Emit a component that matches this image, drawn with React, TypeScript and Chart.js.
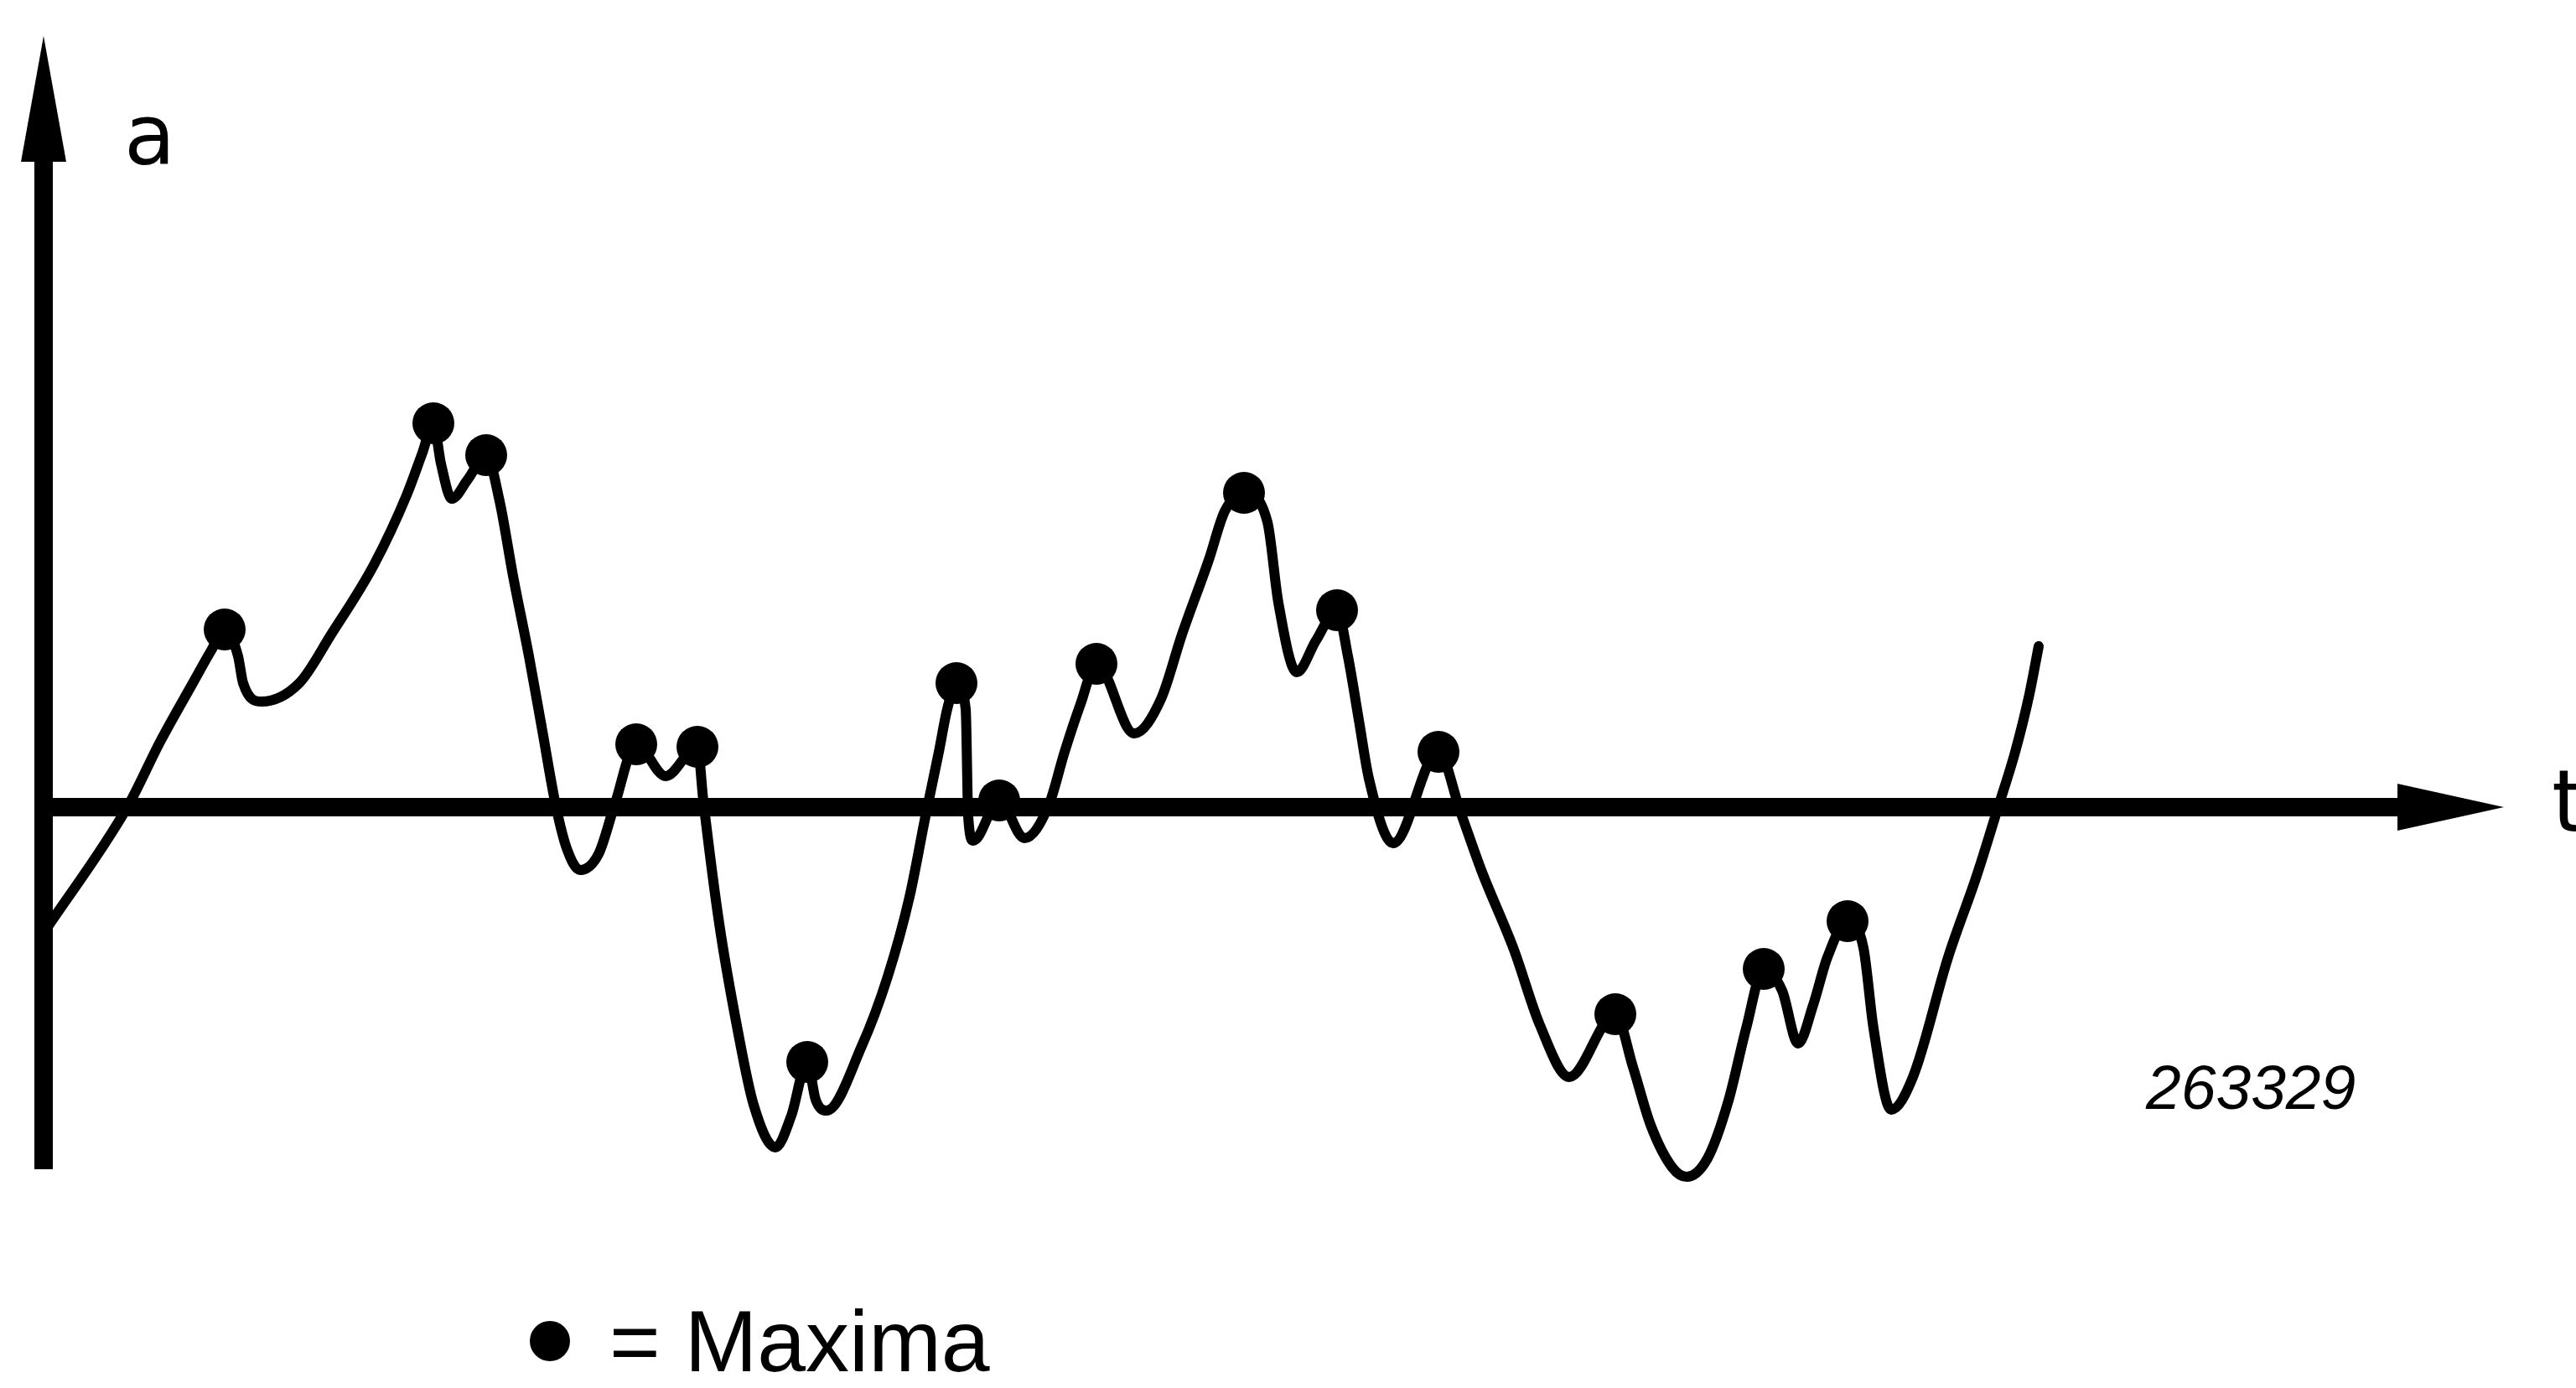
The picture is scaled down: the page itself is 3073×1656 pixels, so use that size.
import React, { useEffect, useRef } from "react";
import { Chart, registerables } from "chart.js";

Chart.register(...registerables);

// Signal a(t): sampled along the trace, t in time units, a in amplitude units
const timeValues = [
  0.0, 1.01, 1.39, 1.78, 2.0, 2.16, 2.32, 2.38, 2.6, 3.05, 3.43, 3.94, 4.33, 4.52, 4.65,
  4.74, 4.87, 5.06, 5.28, 5.44, 5.6, 5.79, 5.95, 6.11, 6.24, 6.4, 6.62, 6.81, 7.07, 7.42,
  7.8, 7.87, 8.06, 8.28, 8.47, 8.73, 8.92, 9.11, 9.21, 9.34, 9.76, 10.07, 10.33, 10.52,
  10.68, 10.78, 10.89, 11.0, 11.03, 11.09, 11.4, 11.7, 11.99, 12.18, 12.37, 12.56, 13.01,
  13.33, 13.58, 13.9, 14.09, 14.32, 14.6, 14.73, 14.95, 15.18, 15.43, 15.56, 15.69, 15.81,
  16.1, 16.64, 16.9, 17.15, 17.54, 17.85, 18.2, 18.75, 18.96, 19.17, 19.43, 19.6, 19.85,
  20.1, 20.31, 20.52, 20.74, 20.93, 21.11, 21.28, 21.52, 21.71, 21.83, 22.04, 22.3, 22.72,
  23.06, 23.31, 23.52, 23.69, 23.8,
];
const amplitudeValues = [
  -1.5, 0.02, 0.78, 1.48, 1.87, 2.12, 1.8, 1.48, 1.26, 1.48, 2.06, 2.89, 3.72, 4.23, 4.58,
  4.1, 3.68, 3.91, 4.2, 3.65, 2.76, 1.8, 0.91, 0.02, -0.49, -0.75, -0.56, 0.02, 0.75, 0.37,
  0.72, 0.08, -1.39, -2.66, -3.55, -4.06, -3.68, -3.04, -3.49, -3.62, -2.85, -2.02, -1.07,
  -0.11, 0.66, 1.17, 1.48, 1.17, -0.11, -0.4, 0.08, -0.37, 0.02, 0.66, 1.23, 1.71, 0.88,
  1.29, 2.06, 2.95, 3.53, 3.75, 3.4, 2.44, 1.61, 1.99, 2.35, 1.8, 1.04, 0.34, -0.43, 0.66,
  -0.05, -0.75, -1.7, -2.6, -3.22, -2.47, -3.1, -3.79, -4.3, -4.41, -4.19, -3.5, -2.64,
  -1.93, -2.19, -2.82, -2.36, -1.79, -1.36, -1.68, -2.64, -3.61, -3.22, -1.79, -0.82,
  -0.02, 0.66, 1.35, 1.92,
];

const axisLabelY = "a";
const axisLabelX = "t";
const figureNumber = "263329";
const legendText = "= Maxima";

const W = 3073;
const H = 1656;

// View window and axis extents (data units)
const VIEW = { tMin: -0.52, tMax: 30.21, aMin: -6.93, aMax: 9.63 };
const AXIS = { aBottom: -4.32, aTop: 9.2, tEnd: 29.35 };

const curvePoints = timeValues.map((t, i) => ({ x: t, y: amplitudeValues[i] }));
// Local maxima of the sampled signal
const maximaPoints = curvePoints.filter(
  (p, i) =>
    i > 0 &&
    i < curvePoints.length - 1 &&
    p.y > curvePoints[i - 1].y &&
    p.y > curvePoints[i + 1].y
);

const arrowAxesPlugin = {
  id: "arrowAxes",
  beforeDatasetsDraw(chart: any) {
    const { ctx, scales } = chart;
    const xs = scales.x;
    const ys = scales.y;
    const x0 = xs.getPixelForValue(0);
    const y0 = ys.getPixelForValue(0);
    const yTop = ys.getPixelForValue(AXIS.aTop);
    const yBot = ys.getPixelForValue(AXIS.aBottom);
    const xEnd = xs.getPixelForValue(AXIS.tEnd);
    ctx.save();
    ctx.fillStyle = "#000";
    ctx.strokeStyle = "#000";
    ctx.lineCap = "butt";
    // vertical axis
    const headLen = 150;
    const headHalf = 27;
    ctx.lineWidth = 22;
    ctx.beginPath();
    ctx.moveTo(x0, yBot);
    ctx.lineTo(x0, yTop + headLen - 2);
    ctx.stroke();
    ctx.beginPath();
    ctx.moveTo(x0, yTop);
    ctx.lineTo(x0 + headHalf, yTop + headLen);
    ctx.lineTo(x0 - headHalf, yTop + headLen);
    ctx.closePath();
    ctx.fill();
    // horizontal axis
    const hLen = 127;
    const hHalf = 28;
    ctx.lineWidth = 22;
    ctx.beginPath();
    ctx.moveTo(x0 - 10, y0);
    ctx.lineTo(xEnd - hLen + 2, y0);
    ctx.stroke();
    ctx.beginPath();
    ctx.moveTo(xEnd, y0);
    ctx.lineTo(xEnd - hLen, y0 - hHalf);
    ctx.lineTo(xEnd - hLen, y0 + hHalf);
    ctx.closePath();
    ctx.fill();
    ctx.restore();
  },
  afterDraw(chart: any) {
    const { ctx } = chart;
    ctx.save();
    ctx.fillStyle = "#000";
    ctx.textBaseline = "alphabetic";
    ctx.textAlign = "left";
    ctx.font = '100px "DejaVu Sans"';
    ctx.fillText(axisLabelY, 148, 196);
    ctx.font = '104px "DejaVu Sans"';
    ctx.fillText(axisLabelX, 3044, 992);
    ctx.font = 'italic 75px "Liberation Sans"';
    ctx.fillText(figureNumber, 2560, 1323);
    // legend marker and text
    ctx.beginPath();
    ctx.arc(656, 1600, 24, 0, Math.PI * 2);
    ctx.fill();
    ctx.font = '104px "Liberation Sans"';
    ctx.fillText(legendText, 727, 1636);
    ctx.restore();
  },
};

export default function App() {
  const canvasRef = useRef<HTMLCanvasElement | null>(null);

  useEffect(() => {
    document.body.style.margin = "0";
    document.body.style.background = "#fff";
    const canvas = canvasRef.current;
    if (!canvas) return;
    const chart = new Chart(canvas, {
      type: "line",
      data: {
        datasets: [
          {
            label: "a(t)",
            data: curvePoints,
            borderColor: "#000",
            borderWidth: 12,
            borderCapStyle: "round",
            borderJoinStyle: "round",
            cubicInterpolationMode: "monotone",
            pointRadius: 0,
            fill: false,
          },
          {
            label: "Maxima",
            data: maximaPoints,
            showLine: false,
            pointRadius: 25,
            pointBackgroundColor: "#000",
            pointBorderColor: "#000",
            pointBorderWidth: 0,
          },
        ],
      },
      options: {
        animation: false,
        responsive: false,
        devicePixelRatio: 1,
        layout: { padding: 0, autoPadding: false },
        scales: {
          x: { type: "linear", min: VIEW.tMin, max: VIEW.tMax, display: false },
          y: { type: "linear", min: VIEW.aMin, max: VIEW.aMax, display: false },
        },
        plugins: {
          legend: { display: false },
          tooltip: { enabled: false },
        },
      },
      plugins: [arrowAxesPlugin],
    });
    return () => chart.destroy();
  }, []);

  return (
    <div style={{ width: W, height: H, background: "#fff" }}>
      <canvas ref={canvasRef} width={W} height={H} style={{ display: "block" }} />
    </div>
  );
}
